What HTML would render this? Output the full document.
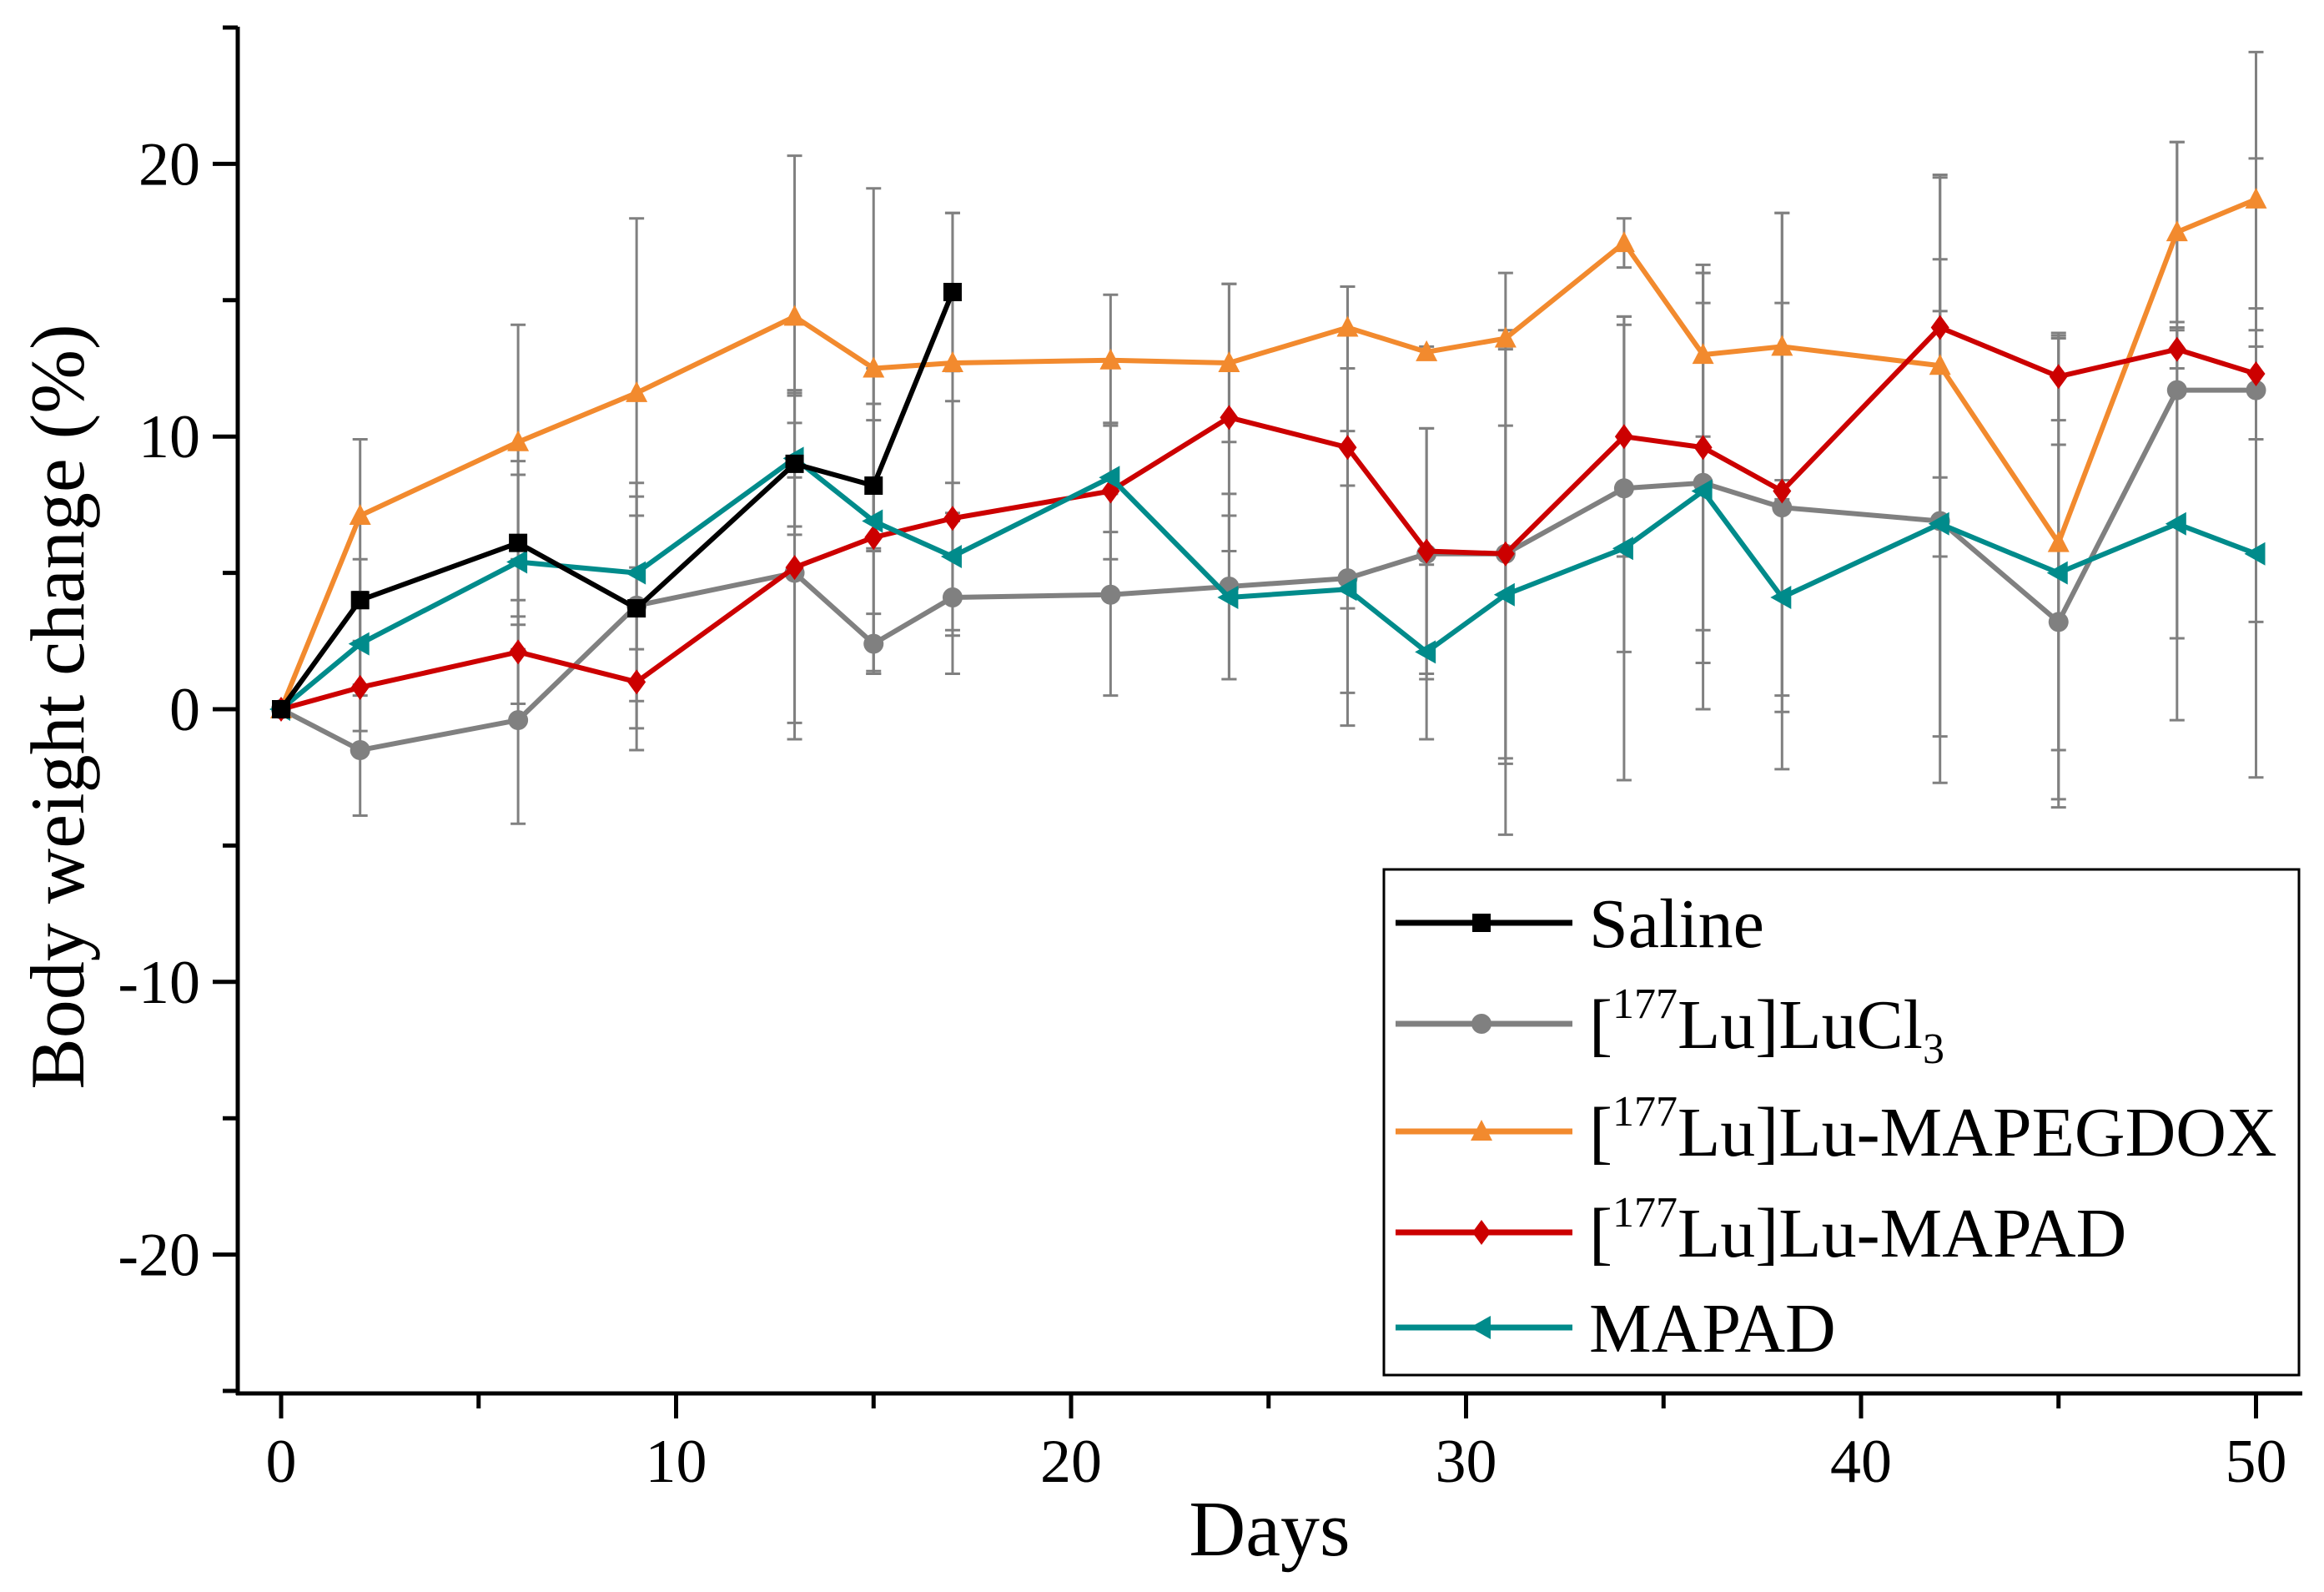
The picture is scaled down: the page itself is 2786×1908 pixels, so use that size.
<!DOCTYPE html>
<html><head><meta charset="utf-8"><style>
body{margin:0;background:#fff}
svg{display:block;font-family:"Liberation Serif",serif}
</style></head><body>
<svg id="chart" width="2786" height="1908" viewBox="0 0 2786 1908"></svg>
<script>
const days = [0,2,6,9,13,15,17,21,24,27,29,31,34,36,38,42,45,48,50];
const salineDays = [0,2,6,9,13,15,17];
const salineVals = [0,4.0,6.1,3.7,9.0,8.2,15.3];
const salineErr = [0,1.5,3.0,3.4,2.6,2.4,2.9];
const lucl3Vals = [0,-1.5,-0.4,3.8,5.0,2.4,4.1,4.2,4.5,4.8,5.7,5.7,8.1,8.3,7.4,6.9,3.2,11.7,11.7];
const lucl3Err = [0,2.4,3.8,4.5,5.5,1.1,2.8,3.7,3.4,5.4,4.6,10.3,6.0,6.6,7.5,9.6,6.5,9.1,8.5];
const mapegdoxVals = [0,7.1,9.8,11.6,14.4,12.5,12.7,12.8,12.7,14.0,13.1,13.6,17.1,13.0,13.3,12.6,6.1,17.5,18.7];
const mapegdoxErr = [0,2.8,4.3,6.4,5.9,6.6,5.5,2.4,2.9,1.5,0.2,0.3,0.9,3.0,4.9,7.0,7.6,3.3,5.4];
const lumapadVals = [0,0.8,2.1,1.0,5.2,6.3,7.0,8.0,10.7,9.6,5.8,5.7,10.0,9.6,8.0,14.0,12.2,13.2,12.3];
const lumapadErr = [0,1.6,1.9,2.5,6.3,4.9,4.3,2.5,4.9,5.9,4.5,7.5,4.4,6.7,10.2,5.5,1.6,0.7,2.4];
const mapadVals = [0,2.4,5.4,5.0,9.2,6.9,5.6,8.5,4.1,4.4,2.1,4.2,5.9,8.0,4.1,6.8,5.0,6.8,5.7];
const mapadErr = [0,1.9,3.2,2.8,2.5,5.6,2.7,2.0,3.0,3.8,3.2,6.2,8.5,8.0,3.6,7.8,8.6,7.2,8.2];
const xTicks = [0,10,20,30,40,50];
const xMinor = [5,15,25,35,45];
const yTicks = [-20,-10,0,10,20];
const yMinor = [-25,-15,-5,5,15,25];

const svg = document.getElementById('chart');
const NS = 'http://www.w3.org/2000/svg';
const X = v => 337 + v * 47.35;
const Y = v => 850 - v * 32.68;
function mk(tag, attrs, parent){
  const e = document.createElementNS(NS, tag);
  for (const k in attrs) e.setAttribute(k, attrs[k]);
  (parent || svg).appendChild(e);
  return e;
}
const errG = mk('g', {});


function errs(xs, vs, es){
  xs.forEach((d,i)=>{
    if(!es[i]) return;
    const x = X(d), y1 = Y(vs[i]+es[i]), y2 = Y(vs[i]-es[i]);
    mk('line',{x1:x,x2:x,y1:y1,y2:y2,stroke:'#808080','stroke-width':3},errG);
    mk('line',{x1:x-9,x2:x+9,y1:y1,y2:y1,stroke:'#808080','stroke-width':3},errG);
    mk('line',{x1:x-9,x2:x+9,y1:y2,y2:y2,stroke:'#808080','stroke-width':3},errG);
  });
}
errs(salineDays, salineVals, salineErr);
errs(days, lucl3Vals, lucl3Err);
errs(days, mapegdoxVals, mapegdoxErr);
errs(days, lumapadVals, lumapadErr);
errs(days, mapadVals, mapadErr);

function marker(type, x, y, color, parent){
  const s = 11;
  if(type==='square') return mk('rect',{x:x-s,y:y-s,width:2*s,height:2*s,fill:color},parent);
  if(type==='circle') return mk('circle',{cx:x,cy:y,r:s+1,fill:color},parent);
  if(type==='tri') return mk('polygon',{points:`${x},${y-s-3} ${x+s+2},${y+s} ${x-s-2},${y+s}`,fill:color},parent);
  if(type==='diamond') return mk('polygon',{points:`${x},${y-s-4} ${x+s},${y} ${x},${y+s+4} ${x-s},${y}`,fill:color},parent);
  if(type==='left') return mk('polygon',{points:`${x-s-3},${y} ${x+s},${y-s-3} ${x+s},${y+s+3}`,fill:color},parent);
}
function series(name, xs, vs, color, type){
  const g = mk('g', {});
  
  
  mk('polyline',{points:xs.map((d,i)=>X(d)+','+Y(vs[i])).join(' '),fill:'none',stroke:color,'stroke-width':6,'stroke-linejoin':'round'},g);
  xs.forEach((d,i)=>marker(type,X(d),Y(vs[i]),color,g));
}
series('series-lucl3', days, lucl3Vals, '#808080', 'circle');
series('series-mapegdox', days, mapegdoxVals, '#f28a2e', 'tri');
series('series-lu-mapad', days, lumapadVals, '#cc0000', 'diamond');
series('series-mapad', days, mapadVals, '#008b8b', 'left');
series('series-saline', salineDays, salineVals, '#000000', 'square');

const ax = mk('g', {});


mk('line',{x1:285,x2:285,y1:32,y2:1672,stroke:'#000','stroke-width':5},ax);
mk('line',{x1:283,x2:2760,y1:1670,y2:1670,stroke:'#000','stroke-width':5},ax);
xTicks.forEach(t=>{
  mk('line',{x1:X(t),x2:X(t),y1:1670,y2:1700,stroke:'#000','stroke-width':5},ax);
  const tx = mk('text',{x:X(t),y:1776,'text-anchor':'middle','font-size':74},ax);
  tx.textContent = t;
});
xMinor.forEach(t=>mk('line',{x1:X(t),x2:X(t),y1:1670,y2:1688,stroke:'#000','stroke-width':5},ax));
yTicks.forEach(t=>{
  mk('line',{x1:255,x2:285,y1:Y(t),y2:Y(t),stroke:'#000','stroke-width':5},ax);
  const tx = mk('text',{x:240,y:Y(t)+25,'text-anchor':'end','font-size':74},ax);
  tx.textContent = t;
});
yMinor.forEach(t=>mk('line',{x1:267,x2:285,y1:Y(t),y2:Y(t),stroke:'#000','stroke-width':5},ax));
const xt = mk('text',{x:1522,y:1864,'text-anchor':'middle','font-size':94});


xt.textContent='Days';
const yt = mk('text',{x:0,y:0,'text-anchor':'middle','font-size':92,transform:'translate(100,847) rotate(-90)'});


yt.textContent='Body weight change (%)';

const lg = mk('g', {});


mk('rect',{x:1659,y:1042,width:1097,height:606,fill:'#fff',stroke:'#000','stroke-width':3},lg);
const legItems = [
  ['legend-saline','#000','square',1106,'Saline'],
  ['legend-lucl3','#808080','circle',1227,'LuCl'],
  ['legend-mapegdox','#f28a2e','tri',1356,'Lu-MAPEGDOX'],
  ['legend-lu-mapad','#cc0000','diamond',1477,'Lu-MAPAD'],
  ['legend-mapad','#008b8b','left',1591,'MAPAD']
];
legItems.forEach((it,i)=>{
  const g = mk('g',{},lg);
  
  
  mk('line',{x1:1673,x2:1885,y1:it[3],y2:it[3],stroke:it[1],'stroke-width':7},g);
  marker(it[2],1776,it[3],it[1],g);
  const t = mk('text',{x:1905,y:it[3]+29,'font-size':84},g);
  if(i===0||i===4){ t.textContent = it[4]; }
  else {
    const a = mk('tspan',{},t); a.textContent='[';
    const b = mk('tspan',{'font-size':52,dy:-36},t); b.textContent='177';
    const c = mk('tspan',{dy:36},t); c.textContent='Lu]'+it[4];
    if(i===1){ const d = mk('tspan',{'font-size':52,dy:18},t); d.textContent='3'; }
  }
});
</script>
</body></html>
